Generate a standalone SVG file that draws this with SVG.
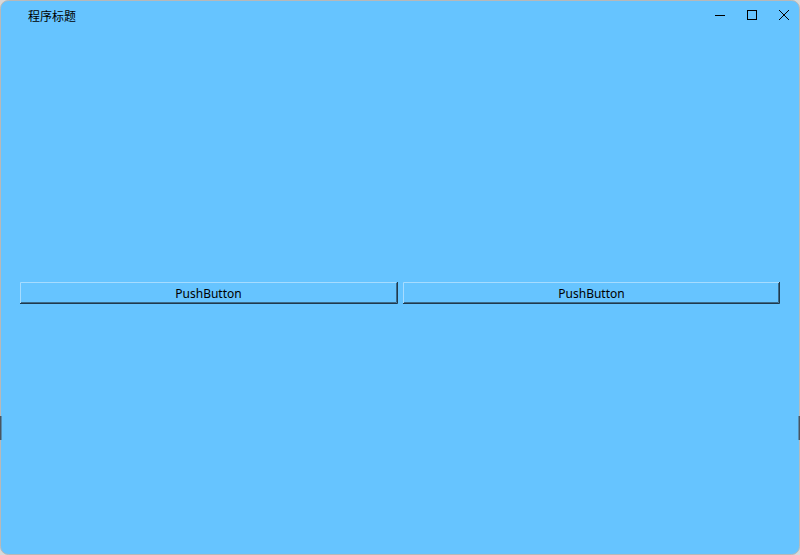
<svg xmlns="http://www.w3.org/2000/svg" width="800" height="555" viewBox="0 0 800 555">
  <style>
    .title { font-family: "Noto Sans CJK SC", "Liberation Sans", sans-serif; font-size: 12px; fill: #000; }
    .btntext { font-family: "Noto Sans", "Liberation Sans", sans-serif; font-size: 12px; fill: #000; }
    .ctl { stroke: #000; stroke-width: 1; fill: none; }
    .hi { stroke: #a6dcff; stroke-width: 1; fill: none; }
    .sh1 { stroke: #1f3a4d; stroke-width: 1; fill: none; }
    .sh2 { stroke: #3c6a8a; stroke-width: 1; fill: none; }
  </style>
  <rect x="0" y="0" width="800" height="555" fill="#d9d9d9"/>
  <g id="window">
    <rect x="0.5" y="0.5" width="799" height="554" rx="8" ry="8" fill="#66c4ff" stroke="#b8b8b8" stroke-width="1"/>
  </g>
  <rect x="0" y="416" width="1.5" height="24" fill="#4a5560"/>
  <rect x="798.5" y="416" width="1.5" height="24" fill="#4a5560"/>
  <g id="titlebar">
    <text class="title" x="28" y="21">程序标题</text>
    <line class="ctl" x1="715" y1="15.5" x2="725" y2="15.5"/>
    <rect class="ctl" x="747.5" y="10.5" width="9" height="9"/>
    <path class="ctl" d="M779 10 L789 20 M789 10 L779 20"/>
  </g>
  <g id="button1">
    <rect x="20" y="282" width="377" height="22" fill="#66c4ff"/>
    <path class="hi" d="M20.5 303 V282.5 H396"/>
    <path class="sh1" d="M20 303.5 H397.5 V282"/>
    <path class="sh2" d="M21 302.5 H396.5 V283"/>
    <text class="btntext" x="208.5" y="298" text-anchor="middle">PushButton</text>
  </g>
  <g id="button2">
    <rect x="403" y="282" width="377" height="22" fill="#66c4ff"/>
    <path class="hi" d="M403.5 303 V282.5 H779"/>
    <path class="sh1" d="M403 303.5 H779.5 V282"/>
    <path class="sh2" d="M404 302.5 H778.5 V283"/>
    <text class="btntext" x="591.5" y="298" text-anchor="middle">PushButton</text>
  </g>
  <g id="connectors"/>
</svg>
